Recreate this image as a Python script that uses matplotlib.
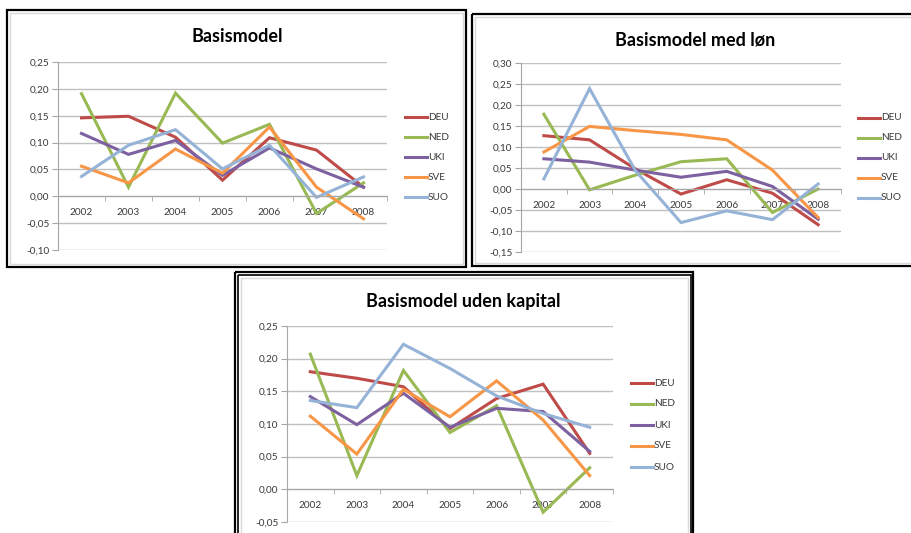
import matplotlib
matplotlib.use("Agg")
import matplotlib.pyplot as plt
from matplotlib.patches import Rectangle
from matplotlib.lines import Line2D
from matplotlib.ticker import FuncFormatter, FixedLocator, MultipleLocator

plt.rcParams['font.family'] = ['Lato', 'DejaVu Sans']

years = ["2002", "2003", "2004", "2005", "2006", "2007", "2008"]
countries = ["DEU", "NED", "UKI", "SVE", "SUO"]

# Basismodel
base_deu = [0.146, 0.149, 0.110, 0.030, 0.109, 0.086, 0.017]
base_ned = [0.191, 0.017, 0.192, 0.099, 0.134, -0.032, 0.025]
base_uki = [0.117, 0.078, 0.104, 0.039, 0.090, 0.051, 0.017]
base_sve = [0.056, 0.025, 0.088, 0.043, 0.129, 0.017, -0.042]
base_suo = [0.037, 0.095, 0.124, 0.051, 0.095, -0.002, 0.036]

# Basismodel med løn
wage_deu = [0.127, 0.117, 0.048, -0.012, 0.022, -0.010, -0.085]
wage_ned = [0.178, -0.002, 0.033, 0.065, 0.072, -0.056, 0.000]
wage_uki = [0.072, 0.064, 0.045, 0.028, 0.042, 0.006, -0.072]
wage_sve = [0.088, 0.149, 0.139, 0.130, 0.117, 0.045, -0.068]
wage_suo = [0.024, 0.239, 0.044, -0.080, -0.052, -0.073, 0.012]

# Basismodel uden kapital
nocap_deu = [0.180, 0.170, 0.157, 0.093, 0.139, 0.161, 0.055]
nocap_ned = [0.207, 0.021, 0.182, 0.087, 0.128, -0.035, 0.033]
nocap_uki = [0.142, 0.099, 0.147, 0.095, 0.124, 0.119, 0.058]
nocap_sve = [0.112, 0.054, 0.153, 0.111, 0.166, 0.106, 0.021]
nocap_suo = [0.136, 0.125, 0.222, 0.185, 0.143, 0.116, 0.095]

colors = ["#BE4B48", "#98B954", "#7D60A0", "#F79646", "#95B3D7"]

W, H = 911, 533
fig = plt.figure(figsize=(W / 100, H / 100), dpi=100)
fig.patch.set_facecolor("white")

# Pixel-space overlay for chart frames and legends
bg = fig.add_axes([0, 0, 1, 1], zorder=0)
bg.set_xlim(0, W)
bg.set_ylim(H, 0)
bg.axis("off")


def frame(x0, y0, x1, y1, double=False):
    bg.add_patch(Rectangle((x0, y0), x1 - x0, y1 - y0, fill=False,
                           ec="black", lw=1.6))
    if double:
        bg.add_patch(Rectangle((x0 + 2.5, y0 + 2.5), x1 - x0 - 5, y1 - y0 - 5,
                               fill=False, ec="black", lw=1.2))
        bg.add_patch(Rectangle((x0 + 5.5, y0 + 5.5), x1 - x0 - 11, y1 - y0 - 11,
                               fill=False, ec="#D9D9D9", lw=1.0))
    else:
        bg.add_patch(Rectangle((x0 + 3, y0 + 3), x1 - x0 - 6, y1 - y0 - 6,
                               fill=False, ec="#D9D9D9", lw=1.0))


frame(7, 10, 466, 267)
frame(472, 14, 930, 266)
frame(235, 272, 693, 560, double=True)

fmt = FuncFormatter(lambda v, p: f"{v:.2f}".replace(".", ",").replace("-0,00", "0,00"))


def panel(px0, px1, py_top, py_bot, ylo, yhi, series, title, title_xy,
          leg_x, leg_yc, leg_gap):
    ax = fig.add_axes([px0 / W, 1 - py_bot / H, (px1 - px0) / W, (py_bot - py_top) / H],
                      zorder=2)
    x = list(range(len(years)))
    for vals, c, name in zip(series, colors, countries):
        ax.plot(x, vals, color=c, lw=2.2, solid_joinstyle="miter", label=name,
                clip_on=False)
    ax.set_xlim(-0.5, len(years) - 0.5)
    ax.set_ylim(ylo, yhi)
    ax.yaxis.set_major_locator(MultipleLocator(0.05))
    ax.yaxis.set_major_formatter(fmt)
    ax.grid(axis="y", color="#C0C0C0", lw=1.0)
    ax.set_axisbelow(True)
    for s in ("top", "right"):
        ax.spines[s].set_visible(False)
    ax.spines["left"].set_color("#A6A6A6")
    ax.spines["bottom"].set_color("#A6A6A6")
    ax.spines["bottom"].set_position(("data", 0))
    ax.set_xticks(x)
    ax.set_xticklabels(years)
    ax.xaxis.set_minor_locator(FixedLocator([i - 0.5 for i in range(len(years) + 1)]))
    ax.tick_params(axis="x", which="major", length=0, pad=8.5, labelsize=7.2,
                   labelcolor="#3A3A3A")
    ax.tick_params(axis="x", which="minor", length=3.5, color="#A6A6A6", direction="out")
    ax.tick_params(axis="y", length=4, color="#A6A6A6", pad=2, labelsize=7.2,
                   labelcolor="#3A3A3A")
    fig.text(title_xy[0] / W, 1 - title_xy[1] / H, title, ha="center", va="center",
             fontsize=13, fontweight="bold", color="black")
    for i, (name, c) in enumerate(zip(countries, colors)):
        yy = leg_yc + (i - 2) * leg_gap
        bg.add_line(Line2D([leg_x, leg_x + 22], [yy, yy], color=c, lw=2.2))
        bg.text(leg_x + 23, yy, name, ha="left", va="center", fontsize=7.2,
                color="#3A3A3A")
    return ax


panel(58, 387, 62, 250, -0.10, 0.25,
      [base_deu, base_ned, base_uki, base_sve, base_suo],
      "Basismodel", (237, 37), 405, 157, 20)
panel(521, 841, 63, 252, -0.15, 0.30,
      [wage_deu, wage_ned, wage_uki, wage_sve, wage_suo],
      "Basismodel med løn", (695, 40), 858, 158, 20)
panel(287, 613, 326, 522, -0.05, 0.25,
      [nocap_deu, nocap_ned, nocap_uki, nocap_sve, nocap_suo],
      "Basismodel uden kapital", (463, 301), 631, 425, 21)

fig.savefig("out.png", dpi=100, facecolor="white")
